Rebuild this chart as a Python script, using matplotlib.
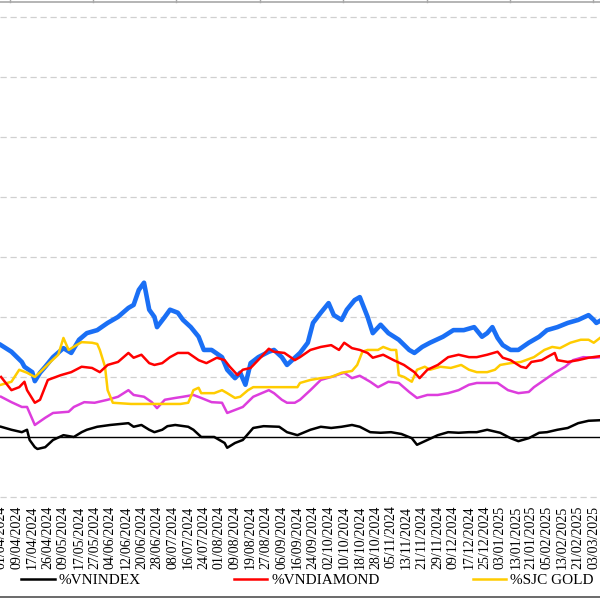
import matplotlib
matplotlib.use("Agg")
import matplotlib.pyplot as plt
from matplotlib.lines import Line2D

plt.rcParams['font.family'] = ['Liberation Serif', 'DejaVu Serif']

# tick labels (every 6th trading day)
tick_labels = ["01/04/2024", "09/04/2024", "17/04/2024", "26/04/2024", "09/05/2024",
               "17/05/2024", "27/05/2024", "04/06/2024", "12/06/2024", "20/06/2024",
               "28/06/2024", "08/07/2024", "16/07/2024", "24/07/2024", "01/08/2024",
               "09/08/2024", "19/08/2024", "27/08/2024", "06/09/2024", "16/09/2024",
               "24/09/2024", "02/10/2024", "10/10/2024", "18/10/2024", "28/10/2024",
               "05/11/2024", "13/11/2024", "21/11/2024", "29/11/2024", "09/12/2024",
               "17/12/2024", "25/12/2024", "03/01/2025", "13/01/2025", "21/01/2025",
               "05/02/2025", "13/02/2025", "21/02/2025", "03/03/2025"]
tick_step = 6

# %VNINDEX (black)
vnindex_days = [0, 4, 8, 10, 11, 13, 14, 17, 20, 24, 28, 31, 33, 37, 42, 49, 51, 54, 57, 59,
                62, 64, 67, 72, 74, 77, 82, 86, 87, 90, 93, 97, 101, 107, 110, 114, 119, 123,
                127, 131, 135, 138, 142, 146, 150, 154, 158, 160, 164, 168, 172, 176, 180,
                183, 187, 192, 196, 199, 203, 207, 210, 214, 218, 222, 226, 231]
vnindex = [1.7, 1.2, 0.8, 1.2, -0.5, -1.7, -2.0, -1.7, -0.5, 0.3, 0.0, 0.8, 1.2, 1.7, 2.0,
           2.3, 1.7, 2.0, 1.2, 0.8, 1.2, 1.8, 2.0, 1.7, 1.2, 0.0, 0.0, -1.0, -1.8, -1.0,
           -0.5, 1.5, 1.8, 1.7, 0.8, 0.3, 1.2, 1.7, 1.5, 1.7, 2.0, 1.7, 0.8, 0.7, 0.8,
           0.5, -0.2, -1.3, -0.5, 0.3, 0.8, 0.7, 0.8, 0.8, 1.2, 0.7, -0.2, -0.7, -0.2, 0.7,
           0.8, 1.2, 1.5, 2.3, 2.7, 2.8]

# %VNDIAMOND (red)
vndiamond_days = [0, 4, 7, 9, 10, 13, 15, 18, 23, 27, 31, 35, 38, 41, 45, 49, 51, 54, 57, 59,
                  62, 65, 68, 72, 76, 79, 83, 86, 88, 91, 93, 96, 100, 103, 105, 109, 113,
                  115, 119, 123, 127, 130, 132, 135, 138, 141, 143, 147, 151, 155, 159, 161,
                  164, 168, 172, 176, 180, 183, 187, 191, 193, 196, 200, 202, 204, 208, 210,
                  213, 214, 218, 222, 226, 231]
vndiamond = [10.0, 7.8, 8.3, 9.2, 7.8, 5.7, 6.2, 9.5, 10.3, 10.8, 11.7, 11.5, 10.8, 12.0, 12.5,
             14.0, 13.2, 13.7, 12.3, 12.0, 12.3, 13.3, 14.0, 14.0, 12.8, 12.3, 13.2, 12.8, 11.7,
             10.3, 11.2, 11.5, 13.3, 14.7, 14.2, 14.0, 12.8, 13.3, 14.5, 15.0, 15.3, 14.5, 15.7,
             14.8, 14.5, 14.0, 13.2, 13.7, 12.8, 12.0, 10.8, 9.8, 11.2, 12.0, 13.3, 13.7, 13.3,
             13.3, 13.7, 14.2, 13.2, 12.8, 11.7, 11.5, 12.5, 12.8, 13.3, 14.0, 12.8, 12.5, 12.8,
             13.2, 13.5]

# %SJC GOLD (yellow)
sjc_days = [0, 4, 7, 10, 13, 15, 19, 22, 24, 26, 29, 31, 35, 37, 38, 40, 41, 43, 50, 58, 64,
            69, 72, 73, 74, 76, 77, 82, 85, 87, 90, 92, 95, 97, 103, 109, 114, 115, 119, 123,
            127, 131, 135, 137, 139, 141, 145, 147, 150, 152, 153, 155, 158, 160, 163, 165,
            169, 173, 177, 180, 183, 187, 190, 192, 196, 200, 205, 209, 212, 215, 219, 223,
            226, 228, 231]
sjc_gold = [8.7, 9.2, 11.2, 10.7, 10.0, 10.8, 12.5, 13.7, 16.5, 14.5, 15.3, 15.8, 15.7, 15.5,
            14.5, 11.7, 7.8, 5.7, 5.5, 5.5, 5.5, 5.5, 5.7, 6.7, 7.8, 8.2, 7.3, 7.3, 7.8, 7.3,
            6.5, 6.7, 7.8, 8.3, 8.3, 8.3, 8.3, 9.0, 9.5, 9.8, 10.0, 10.7, 11.0, 12.0, 14.2,
            14.5, 14.5, 15.0, 14.5, 14.5, 10.3, 10.0, 9.2, 11.2, 11.7, 11.2, 11.7, 11.5, 12.0,
            11.2, 10.8, 10.8, 11.2, 12.0, 12.3, 12.5, 13.3, 14.5, 15.0, 14.8, 15.7, 16.2, 16.2,
            15.7, 16.7]

# blue series (legend entry cropped)
blue_days = [0, 4, 8, 9, 12, 13, 15, 17, 20, 24, 27, 30, 33, 37, 41, 45, 49, 51, 53, 55, 57,
             59, 60, 63, 65, 68, 70, 73, 76, 78, 81, 85, 87, 90, 92, 94, 96, 99, 103, 105, 108,
             110, 113, 115, 118, 120, 123, 126, 128, 131, 133, 136, 138, 141, 143, 146, 149,
             153, 157, 159, 162, 165, 170, 174, 178, 182, 185, 187, 189, 191, 193, 196, 199,
             203, 207, 210, 214, 218, 222, 226, 228, 229, 231]
blue_vals = [15.3, 14.2, 12.5, 11.7, 10.8, 9.3, 10.7, 11.7, 13.3, 14.8, 14.0, 16.2, 17.3, 17.8,
             19.0, 20.0, 21.5, 22.0, 24.5, 25.7, 21.2, 20.0, 18.3, 20.0, 21.2, 20.7, 19.5, 18.3,
             16.7, 14.5, 14.5, 13.3, 11.2, 9.8, 10.7, 8.7, 12.3, 13.3, 14.2, 14.5, 13.3, 12.0,
             13.2, 14.0, 15.7, 19.0, 20.7, 22.3, 20.3, 19.5, 21.2, 22.8, 23.3, 20.0, 17.3, 18.7,
             17.3, 16.2, 14.5, 14.0, 15.0, 15.7, 16.7, 17.8, 17.8, 18.3, 16.7, 17.3, 18.3, 16.5,
             15.3, 14.5, 14.5, 15.7, 16.7, 17.8, 18.3, 19.0, 19.5, 20.3, 19.5, 19.0, 19.5]

# magenta series (legend entry cropped)
magenta_days = [0, 4, 8, 10, 13, 17, 20, 26, 28, 32, 36, 41, 45, 49, 51, 55, 58, 60, 63, 67,
                70, 74, 77, 81, 85, 87, 90, 93, 97, 103, 105, 108, 110, 113, 115, 119, 123, 127,
                132, 135, 138, 142, 145, 149, 153, 157, 160, 164, 168, 172, 176, 180, 183, 187,
                191, 195, 199, 203, 205, 209, 213, 217, 220, 224, 228, 231]
magenta_vals = [6.7, 5.8, 5.0, 5.0, 2.0, 3.2, 4.0, 4.2, 5.0, 5.8, 5.7, 6.2, 6.7, 7.8, 7.0, 6.7,
                5.8, 4.8, 6.2, 6.5, 6.7, 7.0, 6.5, 5.8, 5.7, 4.0, 4.5, 5.0, 6.7, 7.8, 7.3, 6.2,
                5.7, 5.7, 6.2, 7.8, 9.5, 10.0, 10.7, 9.8, 10.2, 9.2, 8.3, 9.2, 9.0, 7.5, 6.5,
                7.0, 7.0, 7.3, 7.8, 8.7, 9.0, 9.0, 9.0, 7.8, 7.3, 7.5, 8.3, 9.5, 10.7, 11.7,
                12.8, 13.3, 13.2, 13.3]

fig = plt.figure(figsize=(6, 6), dpi=100)
ax = fig.add_axes([0.0, 100 / 600, 1.0, 500 / 600])
ax.set_xlim(-0.4, 230.4)
ax.set_ylim(-10.5, 72.8)

for v in range(-10, 80, 10):
    if v != 0:
        ax.axhline(v, color='#d0d0d0', lw=0.9, ls=(0, (5, 3)), zorder=0)
ax.axhline(0, color='black', lw=1.0, zorder=1)

ax.plot(blue_days, blue_vals, color='#1a6ff5', lw=3.3, zorder=2, solid_joinstyle='round')
ax.plot(magenta_days, magenta_vals, color='#dd3ddd', lw=1.8, zorder=3)
ax.plot(sjc_days, sjc_gold, color='#ffcc00', lw=1.8, zorder=4, label='%SJC GOLD')
ax.plot(vndiamond_days, vndiamond, color='#ff0000', lw=1.8, zorder=5, label='%VNDIAMOND')
ax.plot(vnindex_days, vnindex, color='black', lw=1.8, zorder=6, label='%VNINDEX')

ax.set_xticks([i * tick_step for i in range(len(tick_labels))])
ax.set_xticklabels(tick_labels, rotation=90, fontsize=10, va='top', ha='center')
ax.tick_params(axis='x', length=0, pad=4)
ax.set_yticks([])
for s in ax.spines.values():
    s.set_visible(False)

handles = [Line2D([], [], color='black', lw=1.8),
           Line2D([], [], color='#ff0000', lw=1.8),
           Line2D([], [], color='#ffcc00', lw=1.8)]
labels = ['%VNINDEX', '%VNDIAMOND', '%SJC GOLD']
fig.legend(handles, labels, loc='center left', bbox_to_anchor=(21 / 600, 1 - 580 / 600),
           ncol=3, frameon=False, fontsize=11, handlelength=2.2, handletextpad=0.25,
           columnspacing=6.1, borderaxespad=0, borderpad=0)

# outer frame fragments
fig.add_artist(Line2D([0, 1], [1 - 1.5 / 600, 1 - 1.5 / 600], color='#a8a8a8', lw=1.2))
for xp in [10, 93, 176, 260, 343, 427, 510, 593]:
    fig.add_artist(Line2D([xp / 600, xp / 600], [1 - 1.5 / 600, 1.0], color='#a8a8a8', lw=1.0))
fig.add_artist(Line2D([0, 1], [3 / 600, 3 / 600], color='#505050', lw=1.2))

fig.savefig('out.png', dpi=100)
